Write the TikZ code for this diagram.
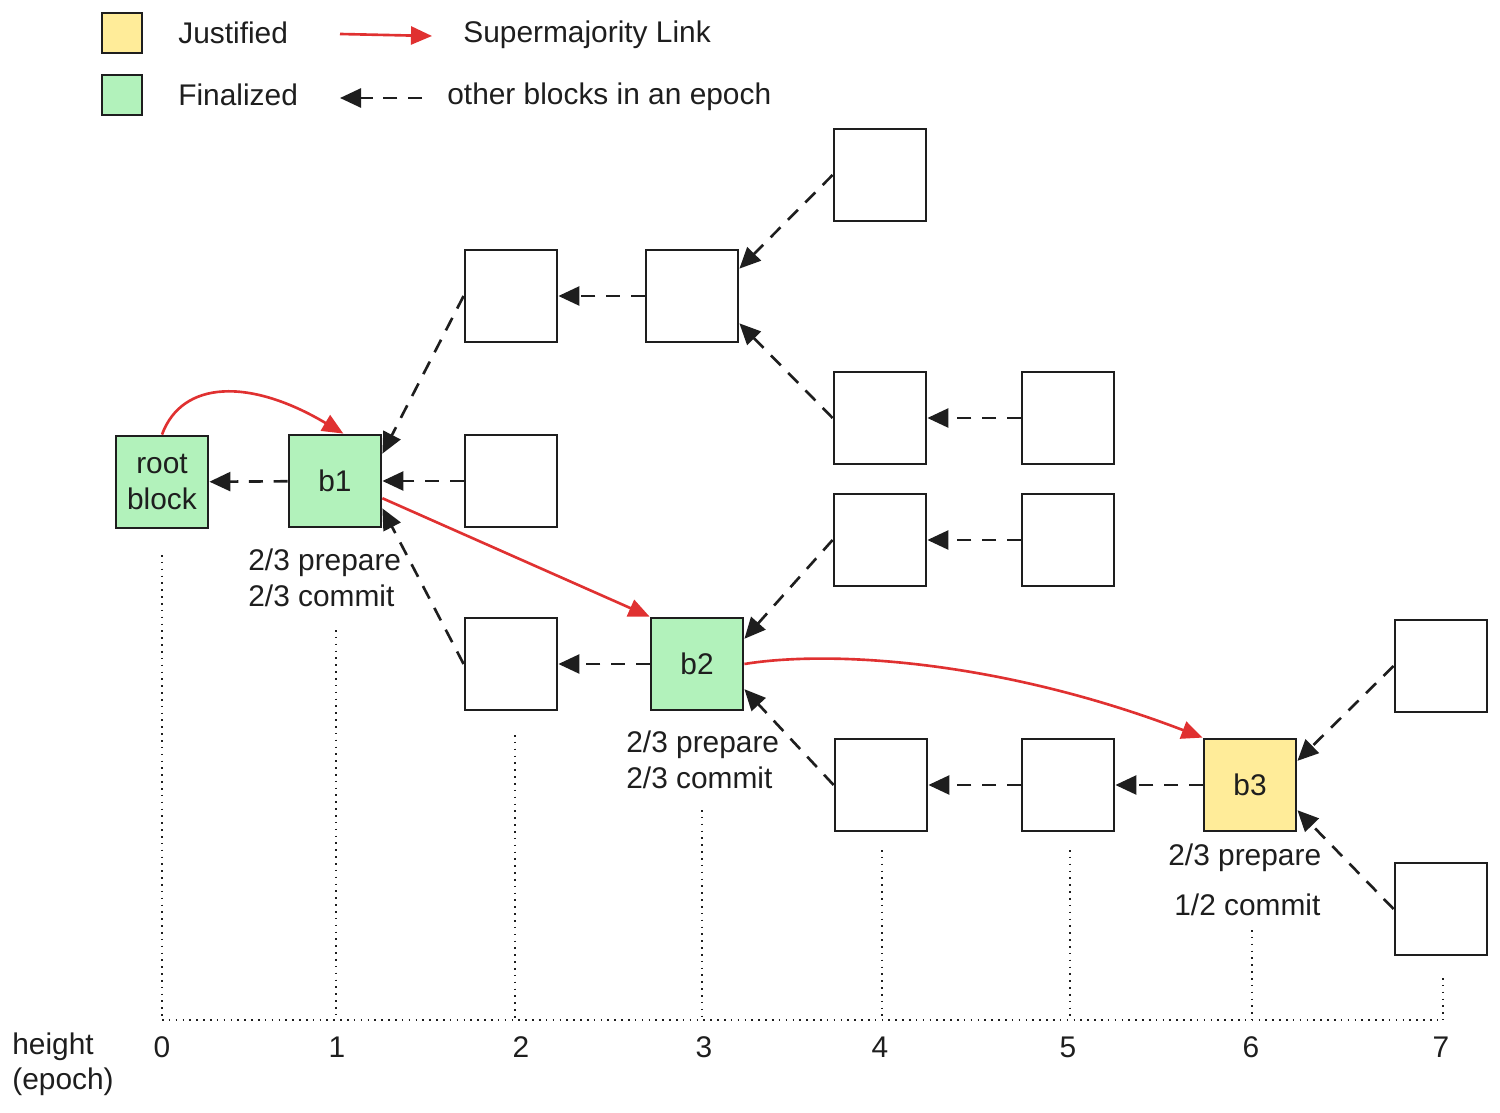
\documentclass[tikz,border=0pt]{standalone}
\usepackage{fontspec}
\setmainfont{Liberation Sans}
\usetikzlibrary{arrows.meta, positioning}
\definecolor{inkline}{HTML}{1e1e1e}
\definecolor{finalgreen}{HTML}{b2f2bb}
\definecolor{justyellow}{HTML}{ffec99}
\definecolor{linkred}{HTML}{e03131}

\begin{document}
\begin{tikzpicture}[x=0.2mm, y=-0.2mm,
		every node/.style={font=\fontsize{17}{20}\selectfont, text=inkline},
		blk/.style={draw=inkline, line width=1.6pt, fill=white, minimum size=18.4mm, inner sep=0pt, align=center},
		final/.style={blk, fill=finalgreen},
		just/.style={blk, fill=justyellow},
		key/.style={draw=inkline, line width=1.6pt, minimum size=8mm, inner sep=0pt},
		other/.style={-{Triangle[length=4.2mm, width=3.8mm]}, draw=inkline, line width=1.5pt, dash pattern=on 8pt off 6pt},
		link/.style={-{Triangle[length=4.2mm, width=3.6mm]}, draw=linkred, line width=1.5pt},
		guide/.style={draw=inkline, line width=0.9pt, dash pattern=on 0.9pt off 3pt},
		note/.style={anchor=west, inner sep=0pt}
	]
	\useasboundingbox (0,0) rectangle (1500,1113);

	% Legend
	\node[key, fill=justyellow] (keyjust) at (122,33) {};
	\node[key, fill=finalgreen] (keyfinal) at (122,95) {};
	\node[note] (txtjust) at (178,33) {Justified};
	\node[note] (txtfinal) at (178,95) {Finalized};
	\coordinate (linkfrom) at (340,34);
	\coordinate (linkto) at (432,36);
	\draw[link] (linkfrom) -- (linkto);
	\node[note] (txtlink) at (463,35) {Supermajority Link};
	\coordinate (otherfrom) at (422,98);
	\coordinate (otherto) at (340,98);
	\draw[other] (otherfrom) -- (otherto);
	\node[note] (txtother) at (447,97) {other blocks in an epoch};

	% Blocks
	\node[final] (root) at (162,482) {root\\block};
	\node[final] (b1) at (335,481) {b1};
	\node[blk] (e2a) at (511,296) {};
	\node[blk] (e2b) at (511,481) {};
	\node[blk] (e2c) at (511,664) {};
	\node[blk] (e3a) at (692,296) {};
	\node[final] (b2) at (697,664) {b2};
	\node[blk] (e4a) at (880,175) {};
	\node[blk] (e4b) at (880,418) {};
	\node[blk] (e4c) at (880,540) {};
	\node[blk] (e4d) at (881,785) {};
	\node[blk] (e5a) at (1068,418) {};
	\node[blk] (e5b) at (1068,540) {};
	\node[blk] (e5c) at (1068,785) {};
	\node[just] (b3) at (1250,785) {b3};
	\node[blk] (e7a) at (1441,666) {};
	\node[blk] (e7b) at (1441,909) {};

	% Parent links
	\draw[other] (b1) -- (root);
	\draw[other] (e2a.west) -- (b1.30);
	\draw[other] (e2b) -- (b1);
	\draw[other] (e2c.west) -- (b1.-30);
	\draw[other] (e3a) -- (e2a);
	\draw[other] (e4a.west) -- (e3a.30);
	\draw[other] (e4b.west) -- (e3a.-30);
	\draw[other] (e5a) -- (e4b);
	\draw[other] (e4c.west) -- (b2.28);
	\draw[other] (b2) -- (e2c);
	\draw[other] (e4d.west) -- (b2.-28);
	\draw[other] (e5b) -- (e4c);
	\draw[other] (e5c) -- (e4d);
	\draw[other] (b3) -- (e5c);
	\draw[other] (e7a.west) -- (b3.27);
	\draw[other] (e7b.west) -- (b3.-28);

	% Supermajority links
	\draw[link] (root.north) .. controls (182,380) and (250,378) .. (b1.80);
	\draw[link] (b1.-20) -- (b2.north west);
	\draw[link] (b2.east) .. controls (830,650) and (1000,660) .. (b3.north west);

	% Votes
	\node[note] (b1prep) at (248,563) {2/3 prepare};
	\node[note] (b1comm) at (248,596) {2/3 commit};
	\node[note] (b2prep) at (626,745) {2/3 prepare};
	\node[note] (b2comm) at (626,778) {2/3 commit};
	\node[note] (b3prep) at (1168,858) {2/3 prepare};
	\node[note] (b3comm) at (1174,905) {1/2 commit};

	% Height axis
	\foreach \n/\x in {0/162, 1/337, 2/521, 3/704, 4/880, 5/1068, 6/1251, 7/1441}
		\node (tick\n) at (\x,1047) {\n};
	\foreach \x/\top in {162/555, 336/630, 515/735, 702/810, 882/850, 1070/850, 1252/930, 1443/978}
		\draw[guide] (\x,\top) -- (\x,1020);
	\draw[guide] (162,1020) -- (1443,1020);
	\node[anchor=west, align=left, inner sep=0pt] (axislabel) at (12,1064) {height\\(epoch)};
\end{tikzpicture}
\end{document}
